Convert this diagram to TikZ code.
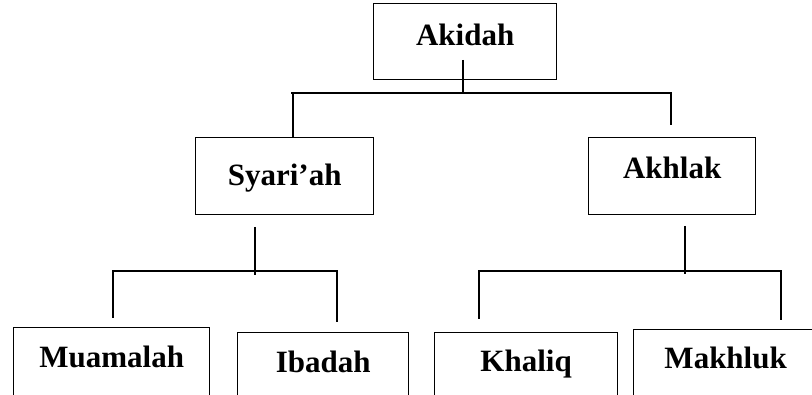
\documentclass[tikz,border=0pt]{standalone}
\usepackage{fontspec}
\setmainfont{Liberation Serif}
\tikzset{
    kotak/.style={draw, line width=1.3pt, inner sep=0pt, anchor=north west,
        font=\fontsize{31}{36}\selectfont\bfseries},
    garis/.style={line width=1.3pt}
}
\begin{document}
\begin{tikzpicture}[x=1pt, y=-1pt]
    \useasboundingbox (0,0) rectangle (812,395);
    \clip (0,0) rectangle (812,395);
    % tingkat atas
    \draw (373,3) node[kotak, minimum width=183pt, text height=42pt, text depth=34pt](akidah){Akidah};
    % tingkat tengah
    \draw (195,137) node[kotak, minimum width=178pt, text height=48pt, text depth=29pt](syariah){Syari’ah};
    \draw (588,137) node[kotak, minimum width=167pt, text height=41pt, text depth=36pt](akhlak){Akhlak};
    % tingkat bawah
    \draw (13,327) node[kotak, minimum width=196pt, text height=40pt, text depth=60pt](muamalah){Muamalah};
    \draw (237,332) node[kotak, minimum width=171pt, text height=40pt, text depth=60pt](ibadah){Ibadah};
    \draw (434,332) node[kotak, minimum width=183pt, text height=39pt, text depth=60pt](khaliq){Khaliq};
    \draw (633,329) node[kotak, minimum width=184pt, text height=39pt, text depth=60pt](makhluk){Makhluk};
    % titik cabang
    \coordinate (akidahA) at (463,60);
    \coordinate (akidahB) at (463,93);
    \coordinate (cabang1L) at (291,93);
    \coordinate (cabang1R) at (671,93);
    \coordinate (turun1L) at (293,93);
    \coordinate (turun1R) at (671,125);
    \coordinate (syariahA) at (255,227);
    \coordinate (syariahB) at (255,275);
    \coordinate (cabang2L) at (113,271);
    \coordinate (cabang2R) at (337,271);
    \coordinate (akhlakA) at (685,226);
    \coordinate (akhlakB) at (685,274);
    \coordinate (cabang3L) at (479,271);
    \coordinate (cabang3R) at (781,271);
    % garis penghubung
    \draw[garis] (akidahA) -- (akidahB);
    \draw[garis] (cabang1L) -- (cabang1R) -- (turun1R);
    \draw[garis] (turun1L) -- (turun1L |- syariah.north);
    \draw[garis] (syariahA) -- (syariahB);
    \draw[garis] ([yshift=9pt]cabang2L |- muamalah.north) -- (cabang2L) -- (cabang2R) -- ([yshift=10pt]cabang2R |- ibadah.north);
    \draw[garis] (akhlakA) -- (akhlakB);
    \draw[garis] ([yshift=13pt]cabang3L |- khaliq.north) -- (cabang3L) -- (cabang3R) -- ([yshift=9pt]cabang3R |- makhluk.north);
\end{tikzpicture}
\end{document}
